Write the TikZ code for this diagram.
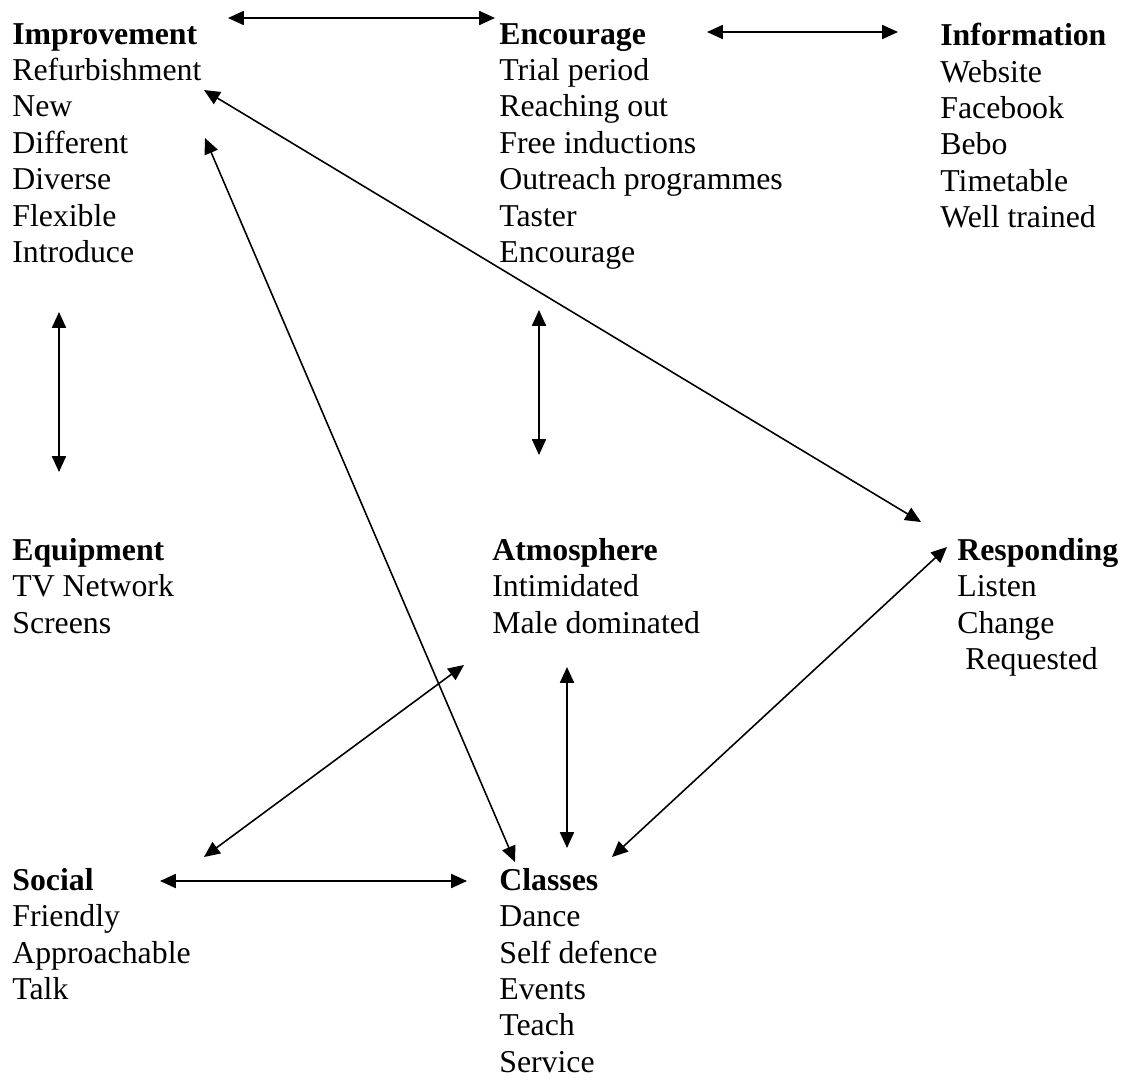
\documentclass[tikz,border=0pt]{standalone}
\usepackage{fontspec}
\setmainfont{Liberation Serif}
\usetikzlibrary{arrows.meta}

\begin{document}
\begin{tikzpicture}[x=0.02cm, y=-0.02cm,
      grp/.style={anchor=north west, align=left, inner sep=0pt, font=\fontsize{18.1}{20.7}\selectfont},
      lnk/.style={{Triangle[length=9pt,width=8pt]}-{Triangle[length=9pt,width=8pt]}, line width=0.9pt}
    ]
    \useasboundingbox (0,0) rectangle (1126,1079);
    \node[grp] (improvement) at (12,23) {\textbf{Improvement}\\Refurbishment\\New\\Different\\Diverse\\Flexible\\Introduce};
    \node[grp] (encourage) at (499,23) {\textbf{Encourage}\\Trial period\\Reaching out\\Free inductions\\Outreach programmes\\Taster\\Encourage};
    \node[grp] (information) at (940,23) {\textbf{Information}\\Website\\Facebook\\Bebo\\Timetable\\Well trained};
    \node[grp] (equipment) at (12,538) {\textbf{Equipment}\\TV Network\\Screens};
    \node[grp] (atmosphere) at (492,538) {\textbf{Atmosphere}\\Intimidated\\Male dominated};
    \node[grp] (responding) at (957,538) {\textbf{Responding}\\Listen\\Change\\\ Requested};
    \node[grp] (social) at (12,868) {\textbf{Social}\\Friendly\\Approachable\\Talk};
    \node[grp] (classes) at (499,868) {\textbf{Classes}\\Dance\\Self defence\\Events\\Teach\\Service};
    % arrow ends
    \coordinate (impEnc) at (228,18);
    \coordinate (encImp) at (495,18);
    \coordinate (encInf) at (707,32);
    \coordinate (infEnc) at (898,32);
    \coordinate (impEqu) at (59,312);
    \coordinate (equImp) at (59,472);
    \coordinate (encAtm) at (539,310);
    \coordinate (atmEnc) at (539,455);
    \coordinate (impRes) at (204,90);
    \coordinate (resImp) at (921,522);
    \coordinate (impCla) at (205,138);
    \coordinate (claImp) at (515,862);
    \coordinate (resCla) at (947,547);
    \coordinate (claRes) at (612,857);
    \coordinate (atmSoc) at (464,665);
    \coordinate (socAtm) at (204,857);
    \coordinate (atmCla) at (567,667);
    \coordinate (claAtm) at (567,848);
    \coordinate (socCla) at (160,881);
    \coordinate (claSoc) at (467,881);
    \draw[lnk] (impEnc) -- (encImp);
    \draw[lnk] (encInf) -- (infEnc);
    \draw[lnk] (impEqu) -- (equImp);
    \draw[lnk] (encAtm) -- (atmEnc);
    \draw[lnk] (impRes) -- (resImp);
    \draw[lnk] (impCla) -- (claImp);
    \draw[lnk] (resCla) -- (claRes);
    \draw[lnk] (atmSoc) -- (socAtm);
    \draw[lnk] (atmCla) -- (claAtm);
    \draw[lnk] (socCla) -- (claSoc);
  \end{tikzpicture}
\end{document}
